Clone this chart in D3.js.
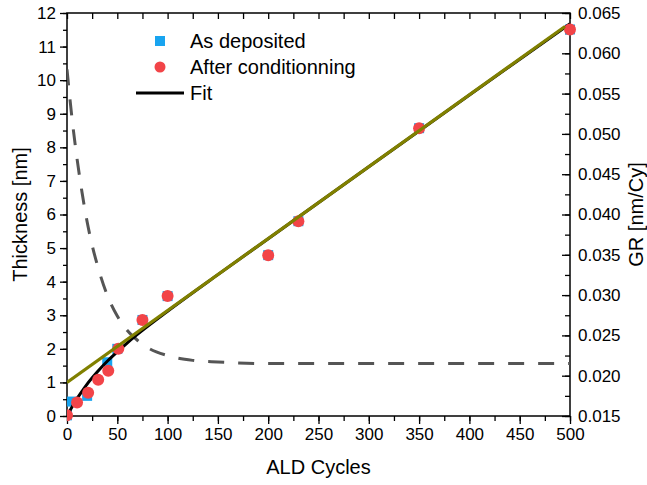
<!DOCTYPE html>
<html>
<head>
<meta charset="utf-8">
<script src="https://cdn.jsdelivr.net/npm/d3@7"></script>
<style>
  html, body { margin: 0; padding: 0; background: #fff; }
  svg { display: block; font-family: "Liberation Sans", Arial, sans-serif; }
</style>
</head>
<body>
<svg id="chart" width="647" height="485"></svg>
<script>
// ---------- data ----------
const depositedX = [0, 5, 20, 40, 50, 75, 100, 200, 230, 350, 500];
const depositedY = [0.02, 0.43, 0.6, 1.6, 2.0, 2.86, 3.57, 4.79, 5.8, 8.57, 11.51];

const conditionedX = [0, 10, 21, 31, 41, 51, 75, 100, 200, 230, 350, 500];
const conditionedY = [0.02, 0.4, 0.69, 1.08, 1.35, 2.0, 2.86, 3.57, 4.79, 5.8, 8.57, 11.51];

const fitX = [0, 5, 10, 15, 20, 30, 40, 50, 60, 75, 100, 150, 200, 300, 400, 500];
const fitY = [0, 0.27, 0.52, 0.74, 0.95, 1.31, 1.63, 1.91, 2.18, 2.55, 3.12, 4.21, 5.28, 7.42, 9.56, 11.68];

const linearX = [0, 495];
const linearY = [1.0, 11.6];

const grX = [0, 5, 10, 15, 20, 25, 30, 40, 50, 60, 70, 80, 100, 125, 150, 200, 300, 400, 500];
const grY = [0.0580, 0.0519, 0.0469, 0.0427, 0.0391, 0.0362, 0.0338, 0.0300, 0.0274, 0.0256,
             0.0244, 0.0235, 0.0225, 0.0219, 0.0217, 0.0215, 0.0215, 0.0215, 0.0215];

const xTicks = [0, 50, 100, 150, 200, 250, 300, 350, 400, 450, 500];
const yLeftTicks = [0, 1, 2, 3, 4, 5, 6, 7, 8, 9, 10, 11, 12];
const yRightTicks = [0.015, 0.020, 0.025, 0.030, 0.035, 0.040, 0.045, 0.050, 0.055, 0.060, 0.065];

const legendLabels = ["As deposited", "After conditionning", "Fit"];

// ---------- layout ----------
const L = 67, R = 570, T = 13, B = 416;
const svg = d3.select("#chart");

const x = d3.scaleLinear().domain([0, 500]).range([L, R]);
const y = d3.scaleLinear().domain([0, 12]).range([B, T]);
const y2 = d3.scaleLinear().domain([0.015, 0.065]).range([B, T]);

svg.append("defs").append("clipPath").attr("id", "clip")
  .append("rect").attr("x", L).attr("y", T - 8).attr("width", R - L + 8).attr("height", B - T + 16);

// ---------- axes ----------
const fontTick = "17px";

// bottom
const xMinor = d3.range(0, 501, 25);
const gB = svg.append("g").attr("transform", `translate(0,${B})`)
  .call(d3.axisBottom(x).tickValues(xMinor).tickSize(5).tickFormat(""));
gB.select(".domain").remove();
gB.selectAll("line").attr("stroke", "#000").attr("stroke-width", 1.3);
const gB2 = svg.append("g").attr("transform", `translate(0,${B})`)
  .call(d3.axisBottom(x).tickValues(xTicks).tickSize(8).tickPadding(4).tickFormat(d3.format("d")));
gB2.select(".domain").remove();
gB2.selectAll("line").attr("stroke", "#000").attr("stroke-width", 1.3);
gB2.selectAll("text").attr("font-size", fontTick).attr("fill", "#000")
  .attr("font-family", "Liberation Sans, Arial, sans-serif");

// top (ticks inward)
const gT = svg.append("g").attr("transform", `translate(0,${T})`)
  .call(d3.axisTop(x).tickValues(xMinor).tickSize(-6).tickFormat(""));
gT.select(".domain").remove();
gT.selectAll("line").attr("stroke", "#000").attr("stroke-width", 1.3);

// left
const yMinor = d3.range(0, 12.01, 0.5);
const gL = svg.append("g").attr("transform", `translate(${L},0)`)
  .call(d3.axisLeft(y).tickValues(yMinor).tickSize(4).tickFormat(""));
gL.select(".domain").remove();
gL.selectAll("line").attr("stroke", "#000").attr("stroke-width", 1.3);
const gL2 = svg.append("g").attr("transform", `translate(${L},0)`)
  .call(d3.axisLeft(y).tickValues(yLeftTicks).tickSize(7).tickPadding(4).tickFormat(d3.format("d")));
gL2.select(".domain").remove();
gL2.selectAll("line").attr("stroke", "#000").attr("stroke-width", 1.3);
gL2.selectAll("text").attr("font-size", fontTick).attr("fill", "#000")
  .attr("font-family", "Liberation Sans, Arial, sans-serif");

// right (ticks inward)
const y2Minor = d3.range(0, 21).map(i => 0.015 + i * 0.0025);
const gR = svg.append("g").attr("transform", `translate(${R},0)`)
  .call(d3.axisRight(y2).tickValues(y2Minor).tickSize(-5).tickFormat(""));
gR.select(".domain").remove();
gR.selectAll("line").attr("stroke", "#000").attr("stroke-width", 1.3);
const gR2 = svg.append("g").attr("transform", `translate(${R},0)`)
  .call(d3.axisRight(y2).tickValues(yRightTicks).tickSize(-8).tickPadding(8).tickFormat(d3.format(".3f")));
gR2.select(".domain").remove();
gR2.selectAll("line").attr("stroke", "#000").attr("stroke-width", 1.3);
gR2.selectAll("text").attr("font-size", fontTick).attr("fill", "#000")
  .attr("font-family", "Liberation Sans, Arial, sans-serif");

// frame
svg.append("rect").attr("x", L).attr("y", T).attr("width", R - L).attr("height", B - T)
  .attr("fill", "none").attr("stroke", "#000").attr("stroke-width", 1.5);

// ---------- curves ----------
const plot = svg.append("g").attr("clip-path", "url(#clip)");

const grLine = d3.line().x((d, i) => x(grX[i])).y(d => y2(d)).curve(d3.curveMonotoneX);
plot.append("path").datum(grY).attr("d", grLine)
  .attr("fill", "none").attr("stroke", "#555").attr("stroke-width", 3)
  .attr("stroke-dasharray", "16,14");

// blue squares
const sq = 10;
plot.selectAll(".dep").data(depositedY).enter().append("rect")
  .attr("x", (d, i) => x(depositedX[i]) - sq / 2)
  .attr("y", d => y(d) - sq / 2)
  .attr("width", sq).attr("height", sq)
  .attr("fill", "#18A4F0");

// fit curve (black)
const fitLine = d3.line().x((d, i) => x(fitX[i])).y(d => y(d)).curve(d3.curveMonotoneX);
plot.append("path").datum(fitY).attr("d", fitLine)
  .attr("fill", "none").attr("stroke", "#000").attr("stroke-width", 3);

// red circles
plot.selectAll(".cond").data(conditionedY).enter().append("circle")
  .attr("cx", (d, i) => x(conditionedX[i]))
  .attr("cy", d => y(d))
  .attr("r", 6)
  .attr("fill", "#F24448");

// linear (olive)
const linLine = d3.line().x((d, i) => x(linearX[i])).y(d => y(d));
plot.append("path").datum(linearY).attr("d", linLine)
  .attr("fill", "none").attr("stroke", "#808000").attr("stroke-width", 3.2);

// ---------- labels ----------
svg.append("text").attr("x", (L + R) / 2).attr("y", 474).attr("text-anchor", "middle")
  .attr("font-size", "20px").attr("fill", "#000").text("ALD Cycles");
svg.append("text").attr("transform", `translate(27,${(T + B) / 2}) rotate(-90)`)
  .attr("text-anchor", "middle").attr("font-size", "20px").attr("fill", "#000").text("Thickness [nm]");
svg.append("text").attr("transform", `translate(643,${(T + B) / 2}) rotate(-90)`)
  .attr("text-anchor", "middle").attr("font-size", "20px").attr("fill", "#000").text("GR [nm/Cy]");

// ---------- legend ----------
const lg = svg.append("g");
const rowY = [41, 67, 93];
lg.append("rect").attr("x", 160 - 5).attr("y", rowY[0] - 5).attr("width", 10).attr("height", 10).attr("fill", "#18A4F0");
lg.append("circle").attr("cx", 160).attr("cy", rowY[1]).attr("r", 5.5).attr("fill", "#F24448");
lg.append("line").attr("x1", 136).attr("x2", 184).attr("y1", rowY[2]).attr("y2", rowY[2])
  .attr("stroke", "#000").attr("stroke-width", 3);
lg.selectAll(".lt").data(legendLabels).enter().append("text")
  .attr("x", 190).attr("y", (d, i) => rowY[i]).attr("dy", "0.35em")
  .attr("font-size", "20px").attr("fill", "#000").text(d => d);
</script>
</body>
</html>
